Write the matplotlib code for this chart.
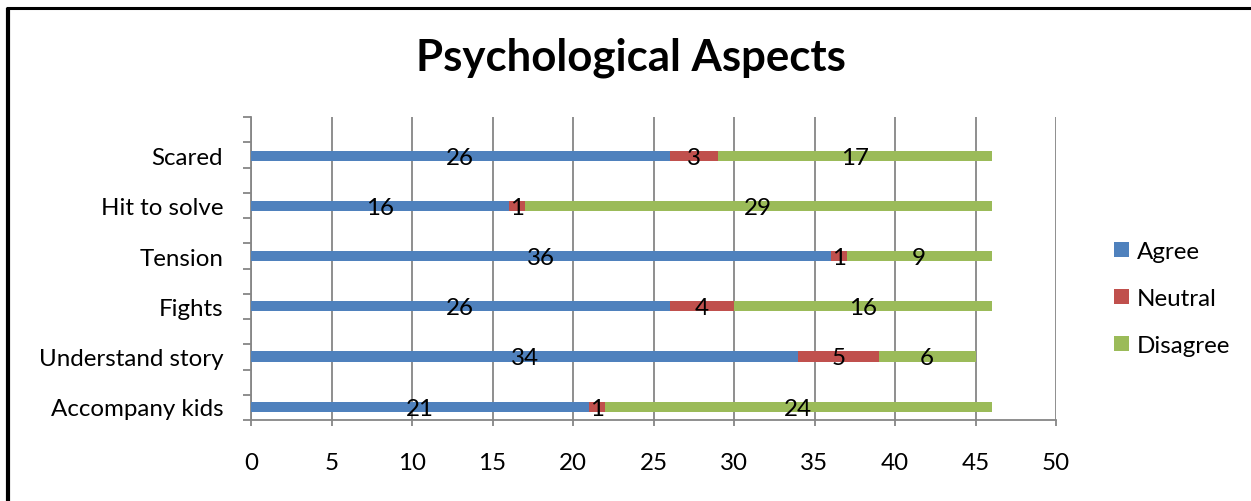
import matplotlib
matplotlib.use("Agg")
import numpy as np
import matplotlib.pyplot as plt
from matplotlib.lines import Line2D
from matplotlib.ticker import FixedLocator, NullFormatter

plt.rcParams['font.family'] = ['Lato', 'DejaVu Sans']

categories = ["Accompany kids", "Understand story", "Fights", "Tension", "Hit to solve", "Scared"]
agree = [21, 34, 26, 36, 16, 26]
neutral = [1, 5, 4, 1, 1, 3]
disagree = [24, 6, 16, 9, 29, 17]
series_names = ["Agree", "Neutral", "Disagree"]
colors = ["#4F81BD", "#C0504D", "#9BBB59"]
x_ticks = [0, 5, 10, 15, 20, 25, 30, 35, 40, 45, 50]

W, H = 1251, 502
FS = 17.4
fig = plt.figure(figsize=(W / 100, H / 100), dpi=100)
ax = fig.add_axes([251 / W, 1 - 421 / H, (1056 - 251) / W, (421 - 118) / H])

ypos = list(range(len(categories)))
left = [0] * len(categories)
handles = []
for vals, name, col in zip([agree, neutral, disagree], series_names, colors):
    bars = ax.barh(ypos, vals, left=left, height=0.2, color=col, label=name, zorder=3)
    handles.append(bars)
    for y, v, l in zip(ypos, vals, left):
        ax.text(l + v / 2, y - 0.03, str(v), ha='center', va='center',
                fontsize=FS, color='black', zorder=4)
    left = [a + b for a, b in zip(left, vals)]

y_lo, y_hi = -0.265, 5.77
ax.set_xlim(0, 50)
ax.set_ylim(y_lo, y_hi)
ax.xaxis.set_major_locator(FixedLocator(x_ticks))
ax.set_xticklabels([str(t) for t in x_ticks])
ax.set_yticks(ypos)
ax.set_yticklabels(categories)
ax.yaxis.set_minor_locator(FixedLocator(np.linspace(y_lo, y_hi, 13)))
ax.yaxis.set_minor_formatter(NullFormatter())

grid_col = "#868686"
ax.grid(axis='x', color=grid_col, linewidth=1.3, zorder=0)
ax.set_axisbelow(True)
for side in ('top', 'right'):
    ax.spines[side].set_visible(False)
for side in ('left', 'bottom'):
    ax.spines[side].set_color(grid_col)
    ax.spines[side].set_linewidth(1.3)

ax.tick_params(axis='y', which='major', length=0, pad=20, labelsize=FS)
ax.tick_params(axis='y', which='minor', length=5.5, width=1.3, color=grid_col, direction='out')
ax.tick_params(axis='x', which='major', length=4.5, width=1.3, color=grid_col,
               direction='out', pad=18.5, labelsize=FS)

fig.text(631 / W, 1 - 58 / H, "Psychological Aspects", ha='center', va='center',
         fontsize=31.5, fontweight='bold')

leg = fig.legend(handles=handles, labels=series_names, loc='center left',
                 bbox_to_anchor=(1092 / W, 1 - 299.5 / H), frameon=False,
                 fontsize=FS, handlelength=0.62, handleheight=0.62,
                 handletextpad=0.35, labelspacing=1.08)

# frame edges along the left and top
fig.add_artist(Line2D([8 / W, 8 / W], [0, 1 - 8.5 / H], transform=fig.transFigure,
                      color='black', linewidth=3.0, solid_capstyle='butt'))
fig.add_artist(Line2D([6 / W, 1], [1 - 8.5 / H, 1 - 8.5 / H], transform=fig.transFigure,
                      color='black', linewidth=2.2, solid_capstyle='butt'))

fig.savefig("out.png", dpi=100)
